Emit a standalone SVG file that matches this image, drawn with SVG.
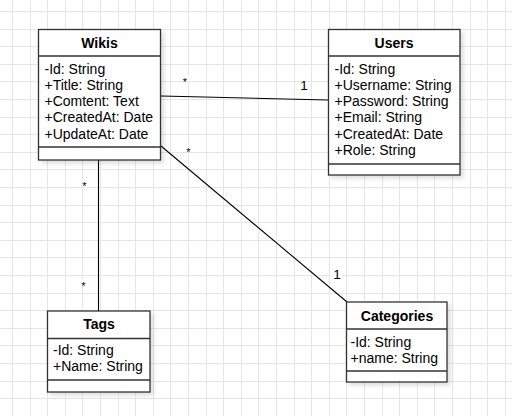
<svg xmlns="http://www.w3.org/2000/svg" width="512" height="416" viewBox="0 0 512 416">
<defs>
<filter id="sh" x="-10%" y="-10%" width="130%" height="130%">
<feDropShadow dx="3" dy="3" stdDeviation="2" flood-color="#000" flood-opacity="0.12"/>
</filter>
</defs>
<style>
.grid{stroke:#e6e6e6;stroke-width:1;fill:none}
.box{fill:#fff;stroke:#333;stroke-width:1.3}
.sep{stroke:#333;stroke-width:1.3;fill:none}
.t{font-family:"Liberation Sans",Arial,sans-serif;font-size:14px;font-weight:bold;text-anchor:middle;fill:#000}
.a{font-family:"Liberation Sans",Arial,sans-serif;font-size:14px;fill:#000}
.edge{stroke:#000;stroke-width:1.1;fill:none}
.lbl{font-family:"Liberation Sans",Arial,sans-serif;fill:#000;text-anchor:middle}
.bg{fill:#fff}
</style>
<rect width="512" height="416" fill="#fff"/>
<path class="grid" d="M12.5 0V416M30.5 0V416M47.5 0V416M65.5 0V416M82.5 0V416M100.5 0V416M118.5 0V416M135.5 0V416M153.5 0V416M170.5 0V416M188.5 0V416M206.5 0V416M223.5 0V416M241.5 0V416M258.5 0V416M276.5 0V416M294.5 0V416M311.5 0V416M329.5 0V416M346.5 0V416M364.5 0V416M382.5 0V416M399.5 0V416M417.5 0V416M434.5 0V416M452.5 0V416M470.5 0V416M487.5 0V416M505.5 0V416M0 11.5H512M0 29.5H512M0 46.5H512M0 64.5H512M0 81.5H512M0 99.5H512M0 117.5H512M0 134.5H512M0 152.5H512M0 169.5H512M0 187.5H512M0 205.5H512M0 222.5H512M0 240.5H512M0 257.5H512M0 275.5H512M0 293.5H512M0 310.5H512M0 328.5H512M0 345.5H512M0 363.5H512M0 381.5H512M0 398.5H512"/>
<g id="connectors">
<path class="edge" d="M161 96L328 100"/>
<path class="edge" d="M98.5 160V311"/>
<path class="edge" d="M161 146L347 302"/>
<rect class="bg" x="182" y="75" width="7" height="7"/>
<text class="lbl" x="185" y="85.5" font-size="11">*</text>
<text class="lbl" x="304" y="90" font-size="13.5">1</text>
<rect class="bg" x="185" y="145" width="7" height="7"/>
<text class="lbl" x="188.5" y="155.5" font-size="11">*</text>
<rect class="bg" x="81" y="179" width="7" height="7"/>
<text class="lbl" x="84.5" y="189.5" font-size="11">*</text>
<rect class="bg" x="80" y="279" width="7" height="7"/>
<text class="lbl" x="83.5" y="289.5" font-size="11">*</text>
<rect class="bg" x="332" y="268" width="10" height="12"/>
<text class="lbl" x="337" y="279" font-size="13.5">1</text>
</g>
<g id="wikis">
<rect class="box" x="38.5" y="29.5" width="122" height="130.5" filter="url(#sh)"/>
<path class="sep" d="M38.5 56H160.5M38.5 147H160.5"/>
<text class="t" x="99.5" y="47.5">Wikis</text>
<text class="a" x="44.5" y="73.5">-Id: String</text>
<text class="a" x="44.5" y="89.7">+Title: String</text>
<text class="a" x="44.5" y="106">+Comtent: Text</text>
<text class="a" x="44.5" y="122.2">+CreatedAt: Date</text>
<text class="a" x="44.5" y="138.5">+UpdateAt: Date</text>
</g>
<g id="users">
<rect class="box" x="328.5" y="29.5" width="131.5" height="145.5" filter="url(#sh)"/>
<path class="sep" d="M328.5 56H460M328.5 164H460"/>
<text class="t" x="394" y="47.5">Users</text>
<text class="a" x="334.5" y="73.5">-Id: String</text>
<text class="a" x="334.5" y="89.7">+Username: String</text>
<text class="a" x="334.5" y="106">+Password: String</text>
<text class="a" x="334.5" y="122.2">+Email: String</text>
<text class="a" x="334.5" y="138.5">+CreatedAt: Date</text>
<text class="a" x="334.5" y="154.7">+Role: String</text>
</g>
<g id="tags">
<rect class="box" x="47.5" y="311" width="102.5" height="81" filter="url(#sh)"/>
<path class="sep" d="M47.5 338.5H150M47.5 380H150"/>
<text class="t" x="99" y="329">Tags</text>
<text class="a" x="53" y="355">-Id: String</text>
<text class="a" x="53" y="371">+Name: String</text>
</g>
<g id="categories">
<rect class="box" x="346.5" y="302" width="100.5" height="80" filter="url(#sh)"/>
<path class="sep" d="M346.5 329H447M346.5 371H447"/>
<text class="t" x="397" y="321">Categories</text>
<text class="a" x="350.5" y="347">-Id: String</text>
<text class="a" x="350.5" y="362.5">+name: String</text>
</g>
</svg>
